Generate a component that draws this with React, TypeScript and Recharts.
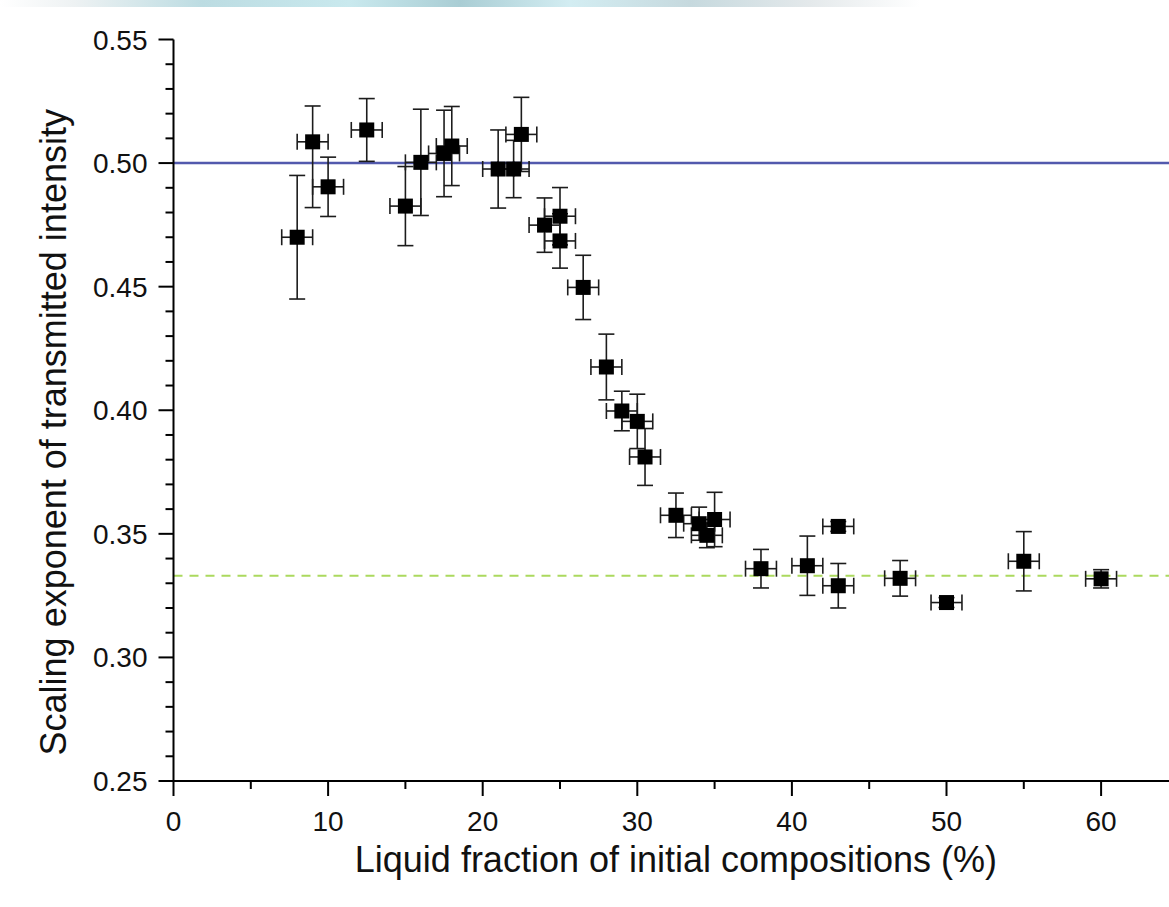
import { ScatterChart, Scatter, XAxis, YAxis, ErrorBar, ReferenceLine, Label } from 'recharts';

// --- Data ---
const liquidFraction = [8, 9, 10, 12.5, 15, 16, 17.5, 18, 21, 22, 22.5, 24, 25, 25, 26.5, 28, 29, 30, 30.5, 32.5, 34, 34.5, 35, 38, 41, 43, 43, 47, 50, 55, 60];
const scalingExponent = [0.470, 0.5086, 0.4904, 0.5134, 0.4826, 0.5003, 0.5039, 0.5069, 0.4976, 0.4976, 0.5116, 0.4749, 0.4785, 0.4685, 0.4497, 0.4175, 0.3997, 0.3955, 0.3811, 0.3575, 0.3541, 0.3494, 0.3558, 0.3359, 0.3371, 0.353, 0.329, 0.332, 0.3222, 0.3389, 0.3318];
// [below, above] or symmetric
const exponentError: (number | [number, number])[] = [0.025, [0.0266, 0.0145], 0.012, 0.0127, 0.016, 0.0215, 0.0175, 0.016, 0.0158, 0.0116, 0.015, 0.011, 0.0116, 0.011, 0.013, 0.0133, 0.008, 0.011, 0.0115, 0.009, 0.0067, 0.005, 0.011, 0.0078, 0.012, 0.002, 0.009, 0.0072, 0.002, 0.012, 0.0037];
const fractionError = [1, 1, 1, 1, 1, 1, 1, 1, 1, 1, 1, 1, 1, 1, 1, 1, 1, 1, 1, 1, 1, 1, 1, 1, 1, 1, 1, 1, 1, 1, 1];

const xTicks = [0, 5, 10, 15, 20, 25, 30, 35, 40, 45, 50, 55, 60, 65];
const yTicks = [0.25, 0.26, 0.27, 0.28, 0.29, 0.30, 0.31, 0.32, 0.33, 0.34, 0.35, 0.36, 0.37, 0.38, 0.39, 0.40, 0.41, 0.42, 0.43, 0.44, 0.45, 0.46, 0.47, 0.48, 0.49, 0.50, 0.51, 0.52, 0.53, 0.54, 0.55];

const halfLine = 0.5;
const thirdLine = 0.333;

const rows = liquidFraction.map((x, i) => ({
    x,
    y: scalingExponent[i],
    ey: exponentError[i],
    ex: fractionError[i],
}));

const FONT = "'Liberation Sans', Arial, Helvetica, sans-serif";
const isMajorX = (v: number) => Math.round(v) % 10 === 0;
const isMajorY = (v: number) => Math.round(v * 100) % 5 === 0;

// --- custom ticks (major/minor) ---
function BottomTick({ x, y, payload }: any) {
    const v = payload.value;
    const major = isMajorX(v);
    return (
        <g>
            <line x1={x} x2={x} y1={y} y2={y + (major ? 15 : 8)} stroke="#000" strokeWidth={2} />
            {major && (
                <text x={x} y={y + 50} textAnchor="middle" fontSize={28} fontFamily={FONT} fill="#111">{v}</text>
            )}
        </g>
    );
}

function TopTick({ x, y, payload }: any) {
    const major = isMajorX(payload.value);
    return <line x1={x} x2={x} y1={y} y2={y + (major ? 15 : 8)} stroke="#000" strokeWidth={2} />;
}

function LeftTick({ x, y, payload }: any) {
    const v = payload.value;
    const major = isMajorY(v);
    return (
        <g>
            <line x1={x} x2={x - (major ? 15 : 8)} y1={y} y2={y} stroke="#000" strokeWidth={2} />
            {major && (
                <text x={x - 26} y={y + 10} textAnchor="end" fontSize={28} fontFamily={FONT} fill="#111">{v.toFixed(2)}</text>
            )}
        </g>
    );
}

function RightTick({ x, y, payload }: any) {
    const major = isMajorY(payload.value);
    return <line x1={x} x2={x - (major ? 15 : 8)} y1={y} y2={y} stroke="#000" strokeWidth={2} />;
}

function SquareMarker({ cx, cy }: any) {
    return <rect x={cx - 7.5} y={cy - 7.5} width={15} height={15} fill="#000" />;
}

function YTitle({ viewBox }: any) {
    const cx = viewBox.x + 66;
    const cy = viewBox.y + viewBox.height / 2 + 22;
    return (
        <text x={cx} y={cy} transform={`rotate(-90 ${cx} ${cy})`} textAnchor="middle" fontSize={36} fontFamily={FONT} fill="#111">
            Scaling exponent of transmitted intensity
        </text>
    );
}

function XTitle({ viewBox }: any) {
    return (
        <text x={viewBox.x + viewBox.width / 2} y={viewBox.y + 91} textAnchor="middle" fontSize={36} fontFamily={FONT} fill="#111">
            Liquid fraction of initial compositions (%)
        </text>
    );
}

export default function App() {
    return (
        <div style={{ position: 'fixed', left: 0, top: 0, width: 1169, height: 907, overflow: 'hidden', background: '#fff' }}>
            {/* scan artifact band along the top edge */}
            <div style={{
                position: 'absolute', left: 0, top: 0, width: 920, height: 7,
                background: 'linear-gradient(90deg, rgba(255,255,255,0) 0%, #eef2f3 8%, #bcdce2 22%, #c9e9ee 38%, #a9cdd4 50%, #d3edf2 62%, #c6d9de 75%, #e4e9eb 88%, rgba(255,255,255,0) 100%)'
            }} />
            <ScatterChart width={1200} height={907} margin={{ top: 39.5, right: 21.6, bottom: 0, left: 0 }}>
                <XAxis
                    dataKey="x"
                    type="number"
                    domain={[0, 65]}
                    ticks={xTicks}
                    interval={0}
                    height={126}
                    tickSize={0}
                    tickMargin={0}
                    tickLine={false}
                    tick={<BottomTick />}
                    axisLine={{ stroke: '#000', strokeWidth: 2 }}
                    allowDataOverflow
                >
                    <Label content={<XTitle />} />
                </XAxis>
                <XAxis
                    xAxisId="top"
                    orientation="top"
                    type="number"
                    domain={[0, 65]}
                    ticks={xTicks}
                    interval={0}
                    height={0}
                    tickSize={0}
                    tickMargin={0}
                    tickLine={false}
                    tick={<TopTick />}
                    axisLine={{ stroke: '#000', strokeWidth: 2 }}
                    allowDataOverflow
                />
                <YAxis
                    dataKey="y"
                    type="number"
                    domain={[0.25, 0.55]}
                    ticks={yTicks}
                    interval={0}
                    width={173.5}
                    tickSize={0}
                    tickMargin={0}
                    tickLine={false}
                    tick={<LeftTick />}
                    axisLine={{ stroke: '#000', strokeWidth: 2 }}
                    allowDataOverflow
                >
                    <Label content={<YTitle />} />
                </YAxis>
                <YAxis
                    yAxisId="right"
                    orientation="right"
                    type="number"
                    domain={[0.25, 0.55]}
                    ticks={yTicks}
                    interval={0}
                    width={0}
                    tickSize={0}
                    tickMargin={0}
                    tickLine={false}
                    tick={<RightTick />}
                    axisLine={{ stroke: '#000', strokeWidth: 2 }}
                    allowDataOverflow
                />
                <ReferenceLine y={halfLine} stroke="#5259ad" strokeWidth={2.5} />
                <ReferenceLine y={thirdLine} stroke="#abd95e" strokeWidth={2} strokeDasharray="9 7" />
                <Scatter data={rows} shape={<SquareMarker />} isAnimationActive={false}>
                    <ErrorBar dataKey="ey" direction="y" width={8} stroke="#1c1c1c" strokeWidth={1.6} isAnimationActive={false} />
                    <ErrorBar dataKey="ex" direction="x" width={8} stroke="#1c1c1c" strokeWidth={1.6} isAnimationActive={false} />
                </Scatter>
            </ScatterChart>
        </div>
    );
}
